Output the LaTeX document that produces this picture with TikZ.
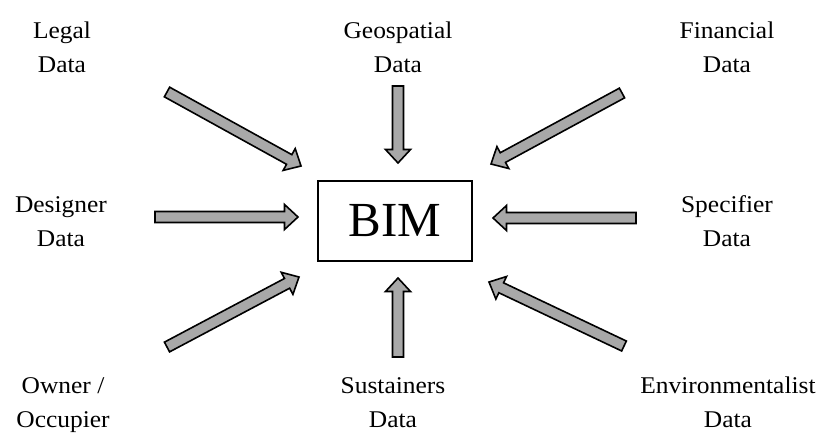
\documentclass[tikz,border=0pt]{standalone}
\usepackage{fontspec}
\setmainfont{Liberation Serif}
\newfontfamily\lblfont[FakeStretch=1.06]{Liberation Serif}
\usetikzlibrary{calc}
\definecolor{arrowgray}{HTML}{A8A8A8}
\tikzset{
  lbl/.style={align=center, font=\lblfont\fontsize{24}{34}\selectfont, inner sep=0pt, anchor=base},
  bimbox/.style={draw, line width=1.5pt, minimum width=154pt, minimum height=80pt, inner sep=0pt,
    font=\fontsize{49}{55}\selectfont},
  blockarrow/.style={draw=black, fill=arrowgray, line width=1.6pt, line join=miter}
}
\newcommand\barrowdraw[2]{%
  \path let \p1=(#1), \p2=(#2),
    \n1={atan2(\y2-\y1,\x2-\x1)}, \n2={veclen(\x2-\x1,\y2-\y1)} in
    \pgfextra{\pgfmathsetmacro\baangtmp{\n1}\xdef\baang{\baangtmp}%
      \pgfmathsetmacro\balentmp{\n2}\xdef\balen{\balentmp}};
  \begin{scope}[shift={(#1)}, rotate=\baang]
    \draw[blockarrow] (0pt,-5.5pt) -- ({(\balen-13.5)*1pt},-5.5pt) -- ({(\balen-13.5)*1pt},-12.5pt)
      -- ({\balen*1pt},0pt) -- ({(\balen-13.5)*1pt},12.5pt) -- ({(\balen-13.5)*1pt},5.5pt)
      -- (0pt,5.5pt) -- cycle;
  \end{scope}}
\begin{document}
\begin{tikzpicture}[x=1pt,y=-1pt]
\useasboundingbox[fill=white] (0,0) rectangle (824,432);
\node[bimbox] (bim) at (395,221) {BIM};
% labels (anchor = baseline of last line)
\node[lbl] (legal) at (62,72) {Legal\\Data};
\node[lbl] (geo) at (398,72) {Geospatial\\Data};
\node[lbl] (fin) at (727,72) {Financial\\Data};
\node[lbl] (des) at (61,246) {Designer\\Data};
\node[lbl] (spec) at (727,246) {Specifier\\Data};
\node[lbl] (own) at (63,427) {Owner /\\Occupier};
\node[lbl] (sus) at (393,427) {Sustainers\\Data};
\node[lbl] (env) at (728,427) {Environmentalist\\Data};
% arrow end points
\coordinate (legalT) at (167,92);  \coordinate (legalH) at (301,166);
\coordinate (geoT) at (398,86);    \coordinate (geoH) at (398,163);
\coordinate (finT) at (622,93);    \coordinate (finH) at (491,164);
\coordinate (desT) at (155,217);   \coordinate (desH) at (298,217);
\coordinate (specT) at (636,218);  \coordinate (specH) at (493,218);
\coordinate (ownT) at (167,347);   \coordinate (ownH) at (299,277);
\coordinate (susT) at (398,357);   \coordinate (susH) at (398,278);
\coordinate (envT) at (624,346);   \coordinate (envH) at (489,282);
\barrowdraw{legalT}{legalH}
\barrowdraw{geoT}{geoH}
\barrowdraw{finT}{finH}
\barrowdraw{desT}{desH}
\barrowdraw{specT}{specH}
\barrowdraw{ownT}{ownH}
\barrowdraw{susT}{susH}
\barrowdraw{envT}{envH}
\end{tikzpicture}
\end{document}
